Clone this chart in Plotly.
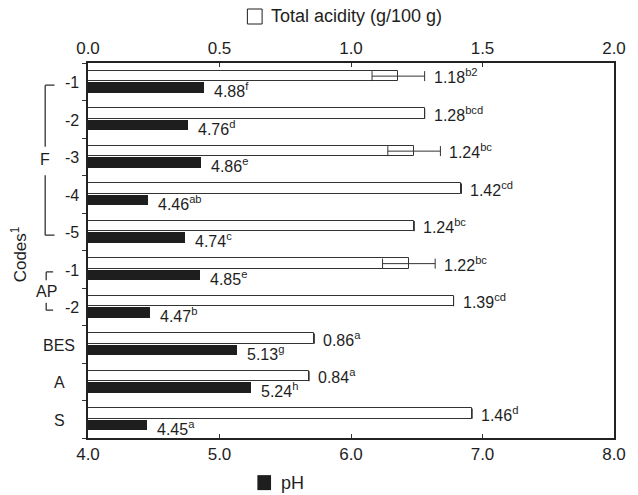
import plotly.graph_objects as go

# ---- data ----
codes = ["-1", "-2", "-3", "-4", "-5", "-1", "-2", "BES", "A", "S"]
acidity = [1.18, 1.28, 1.24, 1.42, 1.24, 1.22, 1.39, 0.86, 0.84, 1.46]
acidity_sd = [0.10, 0, 0.10, 0, 0, 0.10, 0, 0, 0, 0]
acidity_letters = ["b2", "bcd", "bc", "cd", "bc", "bc", "cd", "a", "a", "d"]
ph = [4.88, 4.76, 4.86, 4.46, 4.74, 4.85, 4.47, 5.13, 5.24, 4.45]
ph_letters = ["f", "d", "e", "ab", "c", "e", "b", "g", "h", "a"]
acid_ticks = [0.0, 0.5, 1.0, 1.5, 2.0]
ph_ticks = [4.0, 5.0, 6.0, 7.0, 8.0]

FONT = "Liberation Sans, Arial, sans-serif"
INK = "#1e1e1e"
pos = list(range(len(codes)))

fig = go.Figure()

fig.add_trace(go.Bar(
    y=pos, x=acidity, orientation="h", xaxis="x2", yaxis="y",
    base=0, offset=-0.29, width=0.28,
    marker=dict(color="white", line=dict(color="#333333", width=1)),
    error_x=dict(type="data", array=acidity_sd, color="#333333",
                 thickness=1, width=5),
    showlegend=False, hoverinfo="skip",
))
fig.add_trace(go.Bar(
    y=pos, x=[v - 4.0 for v in ph], orientation="h", xaxis="x", yaxis="y",
    base=4.0, offset=0.01, width=0.28,
    marker=dict(color=INK, line=dict(width=0)),
    showlegend=False, hoverinfo="skip",
))

ann = []
for i, (v, sd, let) in enumerate(zip(acidity, acidity_sd, acidity_letters)):
    ann.append(dict(x=v + sd, y=i - 0.15, xref="x2", yref="y",
                    text=f"{v:.2f}<sup>{let}</sup>", showarrow=False,
                    xanchor="left", yanchor="middle", xshift=7,
                    font=dict(size=16, color=INK, family=FONT)))
for i, (v, let) in enumerate(zip(ph, ph_letters)):
    ann.append(dict(x=v, y=i + 0.15, xref="x", yref="y",
                    text=f"{v:.2f}<sup>{let}</sup>", showarrow=False,
                    xanchor="left", yanchor="middle", xshift=8, yshift=-3,
                    font=dict(size=16, color=INK, family=FONT)))

# category labels
for i, c in enumerate(codes):
    if c.startswith("-"):
        ann.append(dict(x=0, y=i, xref="paper", yref="y", text=c,
                        showarrow=False, xanchor="right", xshift=-7, yshift=-1,
                        font=dict(size=16, color=INK, family=FONT)))
    else:
        ann.append(dict(x=0, y=i, xref="paper", yref="y", text=c,
                        showarrow=False, xanchor="center", xshift=-29, yshift=-1,
                        font=dict(size=16, color=INK, family=FONT)))

ann.append(dict(x=-0.0814, y=2.06, xref="paper", yref="y", text="F",
                showarrow=False, xanchor="center", yanchor="middle",
                font=dict(size=16, color=INK, family=FONT)))
ann.append(dict(x=-0.0795, y=5.6, xref="paper", yref="y", text="AP",
                showarrow=False, xanchor="center", yanchor="middle",
                font=dict(size=16, color=INK, family=FONT)))
ann.append(dict(x=-0.131, y=4.6, xref="paper", yref="y", text="Codes<sup>1</sup>",
                showarrow=False, xanchor="center", yanchor="middle", textangle=-90,
                font=dict(size=17, color=INK, family=FONT)))

# axis titles
ann.append(dict(x=0.345, y=1.125, xref="paper", yref="paper",
                text="Total acidity (g/100 g)", showarrow=False,
                xanchor="left", yanchor="middle",
                font=dict(size=18, color=INK, family=FONT)))
ann.append(dict(x=0.364, y=-0.12, xref="paper", yref="paper",
                text="pH", showarrow=False, xanchor="left", yanchor="middle",
                font=dict(size=18, color=INK, family=FONT)))

line = dict(color="#333333", width=1.3)
shapes = [
    # top legend square
    dict(type="rect", xref="paper", yref="paper", x0=0.303, x1=0.331,
         y0=1.104, y1=1.144, line=dict(color=INK, width=1), fillcolor="white"),
    # bottom legend square
    dict(type="rect", xref="paper", yref="paper", x0=0.322, x1=0.348,
         y0=-0.139, y1=-0.099, line=dict(width=0), fillcolor=INK),
    # F bracket
    dict(type="line", xref="paper", yref="y", x0=-0.0814, x1=-0.0814, y0=0.09, y1=1.73, line=line),
    dict(type="line", xref="paper", yref="y", x0=-0.0814, x1=-0.0814, y0=2.49, y1=4.09, line=line),
    dict(type="line", xref="paper", yref="y", x0=-0.0814, x1=-0.0637, y0=0.09, y1=0.09, line=line),
    dict(type="line", xref="paper", yref="y", x0=-0.0814, x1=-0.0637, y0=4.09, y1=4.09, line=line),
    # AP bracket
    dict(type="line", xref="paper", yref="y", x0=-0.0795, x1=-0.0795, y0=5.07, y1=5.29, line=line),
    dict(type="line", xref="paper", yref="y", x0=-0.0795, x1=-0.0795, y0=5.89, y1=6.09, line=line),
    dict(type="line", xref="paper", yref="y", x0=-0.0795, x1=-0.0663, y0=5.07, y1=5.07, line=line),
    dict(type="line", xref="paper", yref="y", x0=-0.0795, x1=-0.0663, y0=6.09, y1=6.09, line=line),
]

axis_line = dict(showline=True, linecolor="#222222", linewidth=1.5)
tickfont = dict(size=17, color=INK, family=FONT)
fig.update_layout(
    width=638, height=495,
    margin=dict(l=88, r=22, t=63, b=57),
    paper_bgcolor="white", plot_bgcolor="white",
    font=dict(family=FONT, size=16, color=INK),
    xaxis=dict(range=[4, 8], tickvals=ph_ticks, tickformat=".1f",
               ticks="inside", ticklen=4, tickcolor="#333333", showgrid=False,
               zeroline=False, mirror=False, tickfont=tickfont, **axis_line),
    xaxis2=dict(range=[0, 2], tickvals=acid_ticks, tickformat=".1f",
                overlaying="x", side="top", anchor="y",
                ticks="inside", ticklen=4, tickcolor="#333333", showgrid=False,
                zeroline=False, mirror=False, tickfont=tickfont, **axis_line),
    yaxis=dict(range=[9.5, -0.5], showticklabels=False, ticks="", showgrid=False,
               zeroline=False, mirror=True,
               minor=dict(tick0=0.5, dtick=1, ticks="outside", ticklen=4,
                          tickcolor="#333333", showgrid=False),
               **axis_line),
    annotations=ann,
    shapes=shapes,
    bargap=0,
)

fig.write_html("out.html")
